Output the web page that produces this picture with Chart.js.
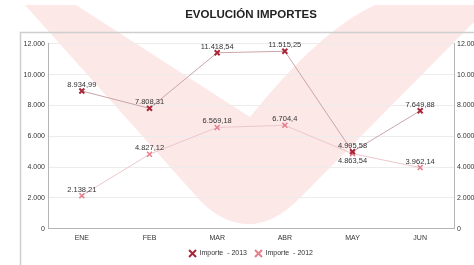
<!DOCTYPE html>
<html>
<head>
<meta charset="utf-8">
<script src="https://cdn.jsdelivr.net/npm/chart.js@4.4.0/dist/chart.umd.min.js"></script>
<style>
html,body{margin:0;padding:0;background:#fff;}
#wrap{width:474px;height:265px;position:relative;}
</style>
</head>
<body>
<div id="wrap"><canvas id="c" width="474" height="265"></canvas></div>
<script>
const categories = ['ENE','FEB','MAR','ABR','MAY','JUN'];
const importe2013 = [8934.99, 7808.31, 11418.54, 11515.25, 4995.58, 7649.88];
const importe2012 = [2138.21, 4827.12, 6569.18, 6704.4, 4863.54, 3962.14];
const seriesNames = ['Importe  - 2013', 'Importe  - 2012'];
const titleText = 'EVOLUCIÓN IMPORTES';

const FONT = "'Liberation Sans', Arial, sans-serif";

function fmt(v){
  const neg = v < 0; v = Math.abs(v);
  let s = String(Math.round(v*100)/100);
  let [ip, dp] = s.split('.');
  ip = ip.replace(/\B(?=(\d{3})+(?!\d))/g, '.');
  return (neg?'-':'') + ip + (dp ? ',' + dp : '');
}

const watermark = {
  id: 'watermark',
  beforeDraw(chart){
    const ctx = chart.ctx;
    ctx.save();
    ctx.fillStyle = '#fde8e8';
    ctx.beginPath();
    ctx.moveTo(25,5);
    ctx.lineTo(76,5);
    ctx.lineTo(250,117);
    ctx.quadraticCurveTo(320,30,375,5);
    ctx.lineTo(474,5);
    ctx.lineTo(474,22);
    ctx.lineTo(300,198);
    ctx.quadraticCurveTo(272,226,246,224);
    ctx.quadraticCurveTo(218,222,196,196);
    ctx.closePath();
    ctx.fill();
    // frame
    ctx.strokeStyle = '#cfcfcf';
    ctx.lineWidth = 1.5;
    ctx.beginPath();
    ctx.moveTo(20.5,265);
    ctx.lineTo(20.5,32.5);
    ctx.lineTo(474,32.5);
    ctx.stroke();
    ctx.restore();
  }
};

const valueLabels = {
  id: 'valueLabels',
  afterDatasetsDraw(chart){
    const ctx = chart.ctx;
    ctx.save();
    ctx.font = '7.5px ' + FONT;
    ctx.fillStyle = '#333';
    ctx.textAlign = 'center';
    ctx.textBaseline = 'middle';
    const d0 = chart.data.datasets[0].data;
    chart.data.datasets.forEach((ds, di) => {
      const meta = chart.getDatasetMeta(di);
      meta.data.forEach((pt, i) => {
        const v = ds.data[i];
        let below = false;
        if (di === 1 && Math.abs(d0[i] - v) < 1000 && d0[i] > v) below = true;
        const y = below ? pt.y + 7 : pt.y - 6;
        ctx.fillText(fmt(v), pt.x, y);
      });
    });
    ctx.restore();
  }
};

Chart.defaults.font.family = FONT;
Chart.defaults.color = '#333';

new Chart(document.getElementById('c'), {
  type: 'line',
  data: {
    labels: categories,
    datasets: [
      {
        label: seriesNames[0],
        data: importe2013,
        borderColor: '#c9a5aa',
        borderWidth: 1,
        pointStyle: 'crossRot',
        pointRadius: 3.5,
        pointBorderWidth: 2,
        pointBorderColor: '#a8283a',
        pointBackgroundColor: '#a8283a',
        tension: 0,
        yAxisID: 'y'
      },
      {
        label: seriesNames[1],
        data: importe2012,
        borderColor: '#ebc7cc',
        borderWidth: 1,
        pointStyle: 'crossRot',
        pointRadius: 3.5,
        pointBorderWidth: 1.5,
        pointBorderColor: '#e47f8d',
        pointBackgroundColor: '#e47f8d',
        tension: 0,
        yAxisID: 'y'
      }
    ]
  },
  options: {
    responsive: false,
    animation: false,
    layout: { padding: { left: 0, right: 0, top: 0, bottom: -2 } },
    plugins: {
      title: {
        display: true,
        text: titleText,
        fullSize: false,
        color: '#222',
        font: { size: 11.5, weight: 'bold', family: FONT },
        padding: { top: 8, bottom: 22 }
      },
      legend: {
        position: 'bottom',
        fullSize: false,
        labels: {
          usePointStyle: true,
          pointStyle: 'crossRot',
          boxWidth: 7,
          boxHeight: 7,
          font: { size: 7, family: FONT },
          color: '#333',
          padding: 8,
          generateLabels(chart){
            return chart.data.datasets.map((ds, i) => ({
              text: ds.label,
              fillStyle: ds.pointBorderColor,
              strokeStyle: ds.pointBorderColor,
              lineWidth: 2,
              pointStyle: 'crossRot',
              datasetIndex: i,
              fontColor: '#333'
            }));
          }
        }
      },
      tooltip: { enabled: false }
    },
    scales: {
      x: {
        offset: true,
        afterFit(scale){ scale.height -= 5; },
        grid: { display: false, drawTicks: false, offset: true },
        border: { display: true, color: '#b5b5b5', width: 1 },
        ticks: { font: { size: 7, family: FONT }, color: '#333', padding: 5 }
      },
      y: {
        position: 'left',
        min: 0, max: 12000,
        afterFit(scale){ scale.width = 48; },
        grid: { color: '#ececec', drawTicks: false },
        border: { display: true, color: '#b5b5b5', width: 1 },
        ticks: { stepSize: 2000, font: { size: 7, family: FONT }, color: '#333', padding: 3,
          callback: v => fmt(v) }
      },
      y2: {
        position: 'right',
        min: 0, max: 12000,
        afterFit(scale){ scale.width = 20; },
        grid: { display: false, drawTicks: false },
        border: { display: true, color: '#b5b5b5', width: 1 },
        ticks: { stepSize: 2000, font: { size: 7, family: FONT }, color: '#333', padding: 3,
          callback: v => fmt(v) }
      }
    }
  },
  plugins: [watermark, valueLabels]
});
</script>
</body>
</html>
